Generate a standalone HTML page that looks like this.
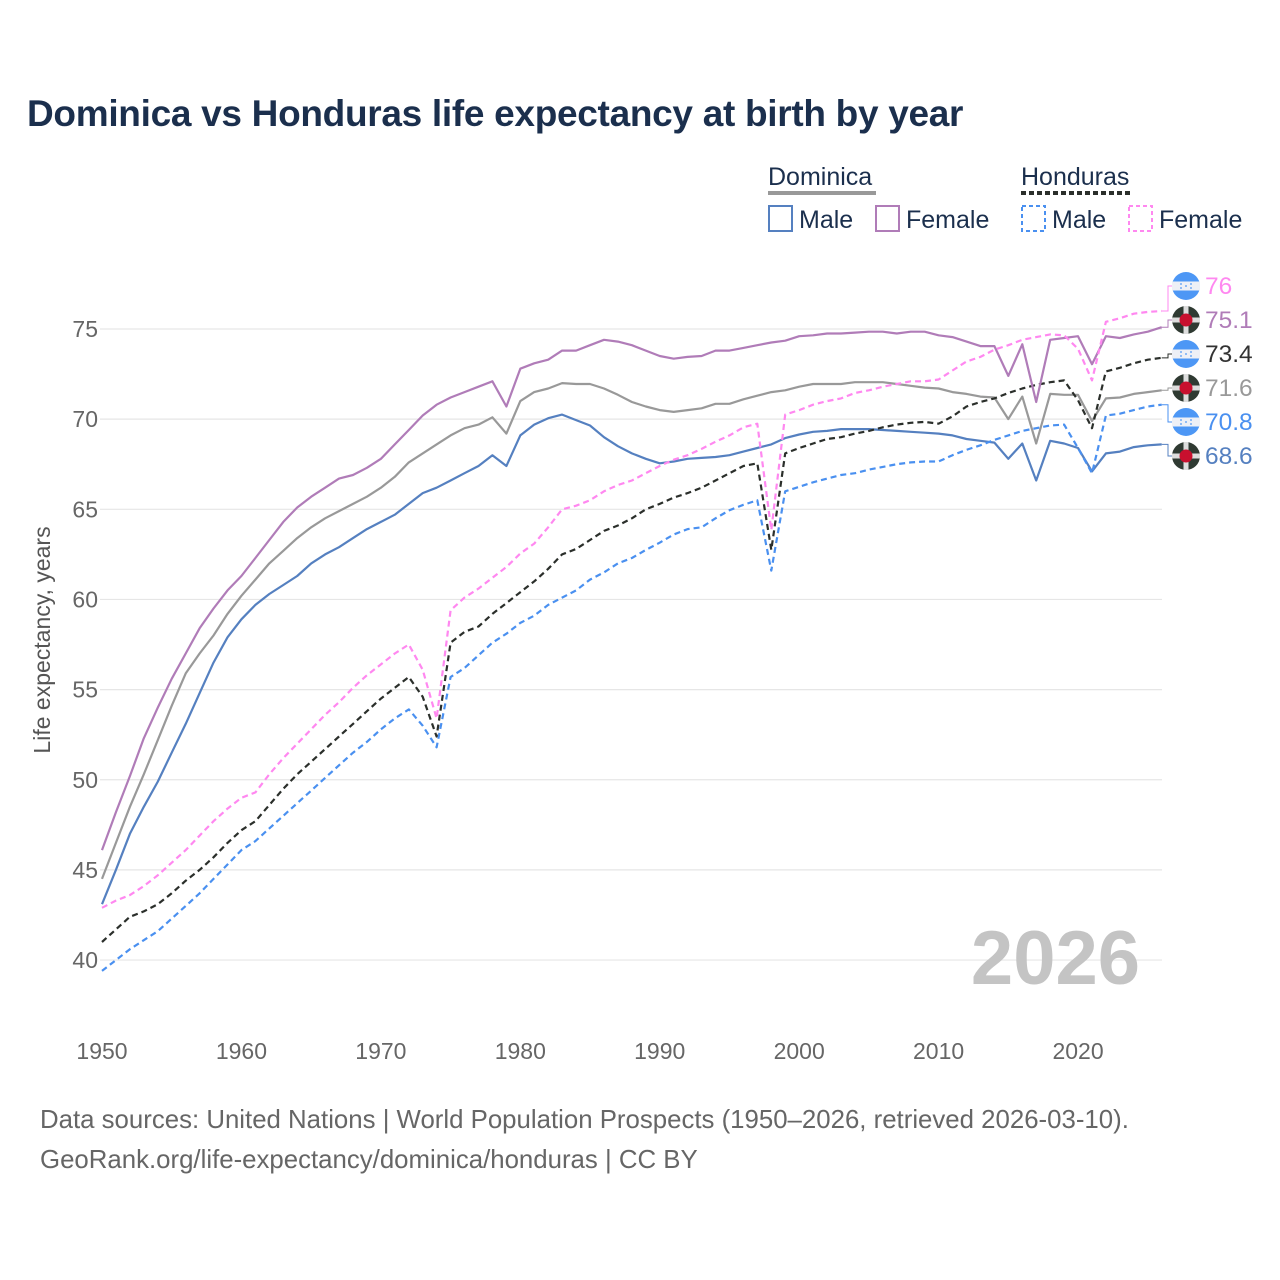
<!DOCTYPE html>
<html><head><meta charset="utf-8"><style>
html,body{margin:0;padding:0;background:#fff;}
body{width:1280px;height:1280px;position:relative;overflow:hidden;font-family:"Liberation Sans",sans-serif;}
.t{position:absolute;white-space:nowrap;}
</style></head><body>
<div class="t" style="left:27px;top:93px;font-size:37px;font-weight:bold;color:#1b2f4d;letter-spacing:-0.3px;">Dominica vs Honduras life expectancy at birth by year</div>
<div class="t" style="left:40px;top:1106px;font-size:25.8px;color:#666;">Data sources: United Nations | World Population Prospects (1950–2026, retrieved 2026-03-10).</div>
<div class="t" style="left:40px;top:1146px;font-size:25.8px;color:#666;">GeoRank.org/life-expectancy/dominica/honduras | CC BY</div>
<svg id="chart" width="1280" height="1280" style="position:absolute;left:0;top:0;" xmlns="http://www.w3.org/2000/svg" font-family="Liberation Sans, sans-serif"></svg>
<script>
const years = []; for (let y = 1950; y <= 2026; y++) years.push(y);
const yTicks = [40,45,50,55,60,65,70,75];
const xTicks = [1950,1960,1970,1980,1990,2000,2010,2020];
const domMale = [43.1,45.0,47.0,48.5,49.9,51.5,53.1,54.8,56.5,57.9,58.9,59.7,60.3,60.8,61.3,62.0,62.5,62.9,63.4,63.9,64.3,64.7,65.3,65.9,66.2,66.6,67.0,67.4,68.0,67.4,
69.1,69.7,70.05,70.25,69.95,69.65,69.0,68.5,68.1,67.8,67.55,67.65,67.8,67.85,67.9,68.0,68.2,68.4,68.6,68.95,69.15,69.3,69.35,69.45,69.45,69.45,69.4,69.35,69.3,69.25,
69.2,69.1,68.9,68.8,68.7,67.8,68.65,66.6,68.8,68.65,68.4,67.1,68.1,68.2,68.45,68.55,68.6];
const domFemale = [46.1,48.2,50.2,52.3,54.0,55.6,57.0,58.4,59.5,60.5,61.3,62.3,63.3,64.3,65.1,65.7,66.2,66.7,66.9,67.3,67.8,68.6,69.4,70.2,70.8,71.2,71.5,71.8,72.1,70.7,
72.8,73.1,73.3,73.8,73.8,74.1,74.4,74.3,74.1,73.8,73.5,73.35,73.45,73.5,73.8,73.8,73.95,74.1,74.25,74.35,74.6,74.65,74.75,74.75,74.8,74.85,74.85,74.75,74.85,74.85,
74.65,74.55,74.3,74.05,74.05,72.4,74.15,70.95,74.4,74.5,74.6,73.05,74.6,74.5,74.7,74.85,75.1];
const domTotal = [44.5,46.5,48.5,50.3,52.2,54.1,55.9,57.0,58.0,59.2,60.2,61.1,62.0,62.7,63.4,64.0,64.5,64.9,65.3,65.7,66.2,66.8,67.6,68.1,68.6,69.1,69.5,69.7,70.1,69.2,
71.0,71.5,71.7,72.0,71.95,71.95,71.7,71.35,70.95,70.7,70.5,70.4,70.5,70.6,70.85,70.85,71.1,71.3,71.5,71.6,71.8,71.95,71.95,71.95,72.05,72.05,72.05,71.95,71.85,71.75,
71.7,71.5,71.4,71.25,71.2,70.0,71.25,68.65,71.4,71.35,71.35,69.9,71.15,71.2,71.4,71.5,71.6];
const honMale = [39.4,40.0,40.6,41.1,41.6,42.3,43.0,43.7,44.5,45.3,46.1,46.6,47.3,48.0,48.7,49.4,50.1,50.8,51.5,52.1,52.8,53.4,53.9,53.0,51.8,55.7,56.2,56.9,57.6,58.1,
58.7,59.1,59.7,60.1,60.5,61.1,61.5,62.0,62.3,62.75,63.15,63.6,63.9,64.0,64.5,64.95,65.25,65.5,61.6,66.0,66.25,66.5,66.7,66.9,67.0,67.2,67.35,67.5,67.6,67.65,
67.65,68.0,68.3,68.55,68.85,69.1,69.35,69.5,69.65,69.7,68.4,67.0,70.2,70.3,70.5,70.7,70.8];
const honFemale = [42.9,43.3,43.6,44.1,44.7,45.4,46.1,46.9,47.7,48.4,49.0,49.3,50.3,51.2,52.0,52.8,53.6,54.3,55.1,55.8,56.4,57.0,57.5,56.1,53.4,59.4,60.1,60.6,61.2,61.8,
62.55,63.1,64.0,65.0,65.2,65.5,66.0,66.35,66.6,67.0,67.4,67.75,68.0,68.35,68.75,69.1,69.55,69.75,63.85,70.25,70.5,70.8,71.0,71.15,71.45,71.6,71.8,71.95,72.1,72.1,
72.2,72.7,73.2,73.45,73.85,74.1,74.4,74.55,74.7,74.65,73.9,72.15,75.4,75.6,75.85,75.95,76.0];
const honTotal = [41.0,41.7,42.4,42.7,43.1,43.7,44.4,45.0,45.7,46.5,47.2,47.7,48.6,49.5,50.3,51.0,51.7,52.4,53.1,53.8,54.5,55.1,55.7,54.6,52.4,57.6,58.2,58.5,59.2,59.8,
60.4,61.0,61.7,62.5,62.8,63.3,63.8,64.1,64.5,65.0,65.3,65.65,65.9,66.2,66.6,67.0,67.4,67.55,62.75,68.1,68.4,68.65,68.9,69.0,69.2,69.35,69.55,69.7,69.8,69.85,
69.75,70.15,70.7,70.95,71.15,71.45,71.7,71.9,72.05,72.15,71.05,69.5,72.65,72.85,73.1,73.3,73.4];

const svg = document.getElementById('chart');
const NS = 'http://www.w3.org/2000/svg';
const X0 = 102, X1 = 1161.7, Y75 = 329, PERU = 18.03;
const xs = y => X0 + (y - 1950) * (X1 - X0) / 76;
const ys = v => Y75 + (75 - v) * PERU;
function mk(tag, attrs, parent) {
  const e = document.createElementNS(NS, tag);
  for (const k in attrs) e.setAttribute(k, attrs[k]);
  (parent || svg).appendChild(e);
  return e;
}
yTicks.forEach(v => {
  const g = mk('line', {x1: 100, x2: 1162, y1: ys(v), y2: ys(v), stroke: '#e6e6e6', 'stroke-width': 1.2});
  
  
  const t = mk('text', {x: 98, y: ys(v) + 8, 'text-anchor': 'end', 'font-size': 23, fill: '#666'});
  t.textContent = v;
  
  
});
xTicks.forEach(yr => {
  const t = mk('text', {x: xs(yr), y: 1059, 'text-anchor': 'middle', 'font-size': 23, fill: '#666'});
  t.textContent = yr;
  
  
});
const yt = mk('text', {x: 0, y: 0, transform: 'translate(50,640) rotate(-90)', 'text-anchor': 'middle', 'font-size': 23, fill: '#555'});
yt.textContent = 'Life expectancy, years';


const big = mk('text', {x: 1140, y: 984, 'text-anchor': 'end', 'font-size': 76, 'font-weight': 'bold', fill: '#c4c4c4'});
big.textContent = '2026';



const series = [
  {name:'honduras-female', data: honFemale, color:'#ff88f0', dash:'6,4', flag:'hn', tcolor:'#ff88f0'},
  {name:'dominica-female', data: domFemale, color:'#b07cb8', dash:null, flag:'dm', tcolor:'#b07cb8'},
  {name:'honduras-total', data: honTotal, color:'#2b2f2b', dash:'6,4', flag:'hn', tcolor:'#333'},
  {name:'dominica-total', data: domTotal, color:'#999999', dash:null, flag:'dm', tcolor:'#999'},
  {name:'honduras-male', data: honMale, color:'#4a90f0', dash:'6,4', flag:'hn', tcolor:'#4a90f0'},
  {name:'dominica-male', data: domMale, color:'#5580c0', dash:null, flag:'dm', tcolor:'#5580c0'}
];
[...series].reverse().forEach(s => {
  const d = s.data.map((v, i) => (i ? 'L' : 'M') + xs(years[i]).toFixed(1) + ',' + ys(v).toFixed(1)).join('');
  const p = mk('path', {d, fill: 'none', stroke: s.color, 'stroke-width': 2.2, 'stroke-linejoin': 'round'});
  if (s.dash) p.setAttribute('stroke-dasharray', s.dash);
  
  
});
const sorted = [...series].sort((a, b) => b.data[b.data.length - 1] - a.data[a.data.length - 1]);
sorted.forEach((s, i) => {
  const last = s.data[s.data.length - 1];
  const ly = 286 + 34 * i;
  const ey = ys(last);
  const c = mk('path', {d: `M${X1},${ey} L1168,${ey} L1168,${ly} L1174,${ly}`, fill: 'none', stroke: s.color, 'stroke-width': 1});
  
  
  const g = mk('g', {transform: `translate(1186,${ly})`});
  
  
  if (s.flag === 'hn') {
    mk('circle', {r: 14, fill: '#4d97f5'}, g);
    mk('rect', {x: -14, y: -4.5, width: 28, height: 9, fill: '#eef0f6'}, g);
    [[-5,-2],[5,-2],[0,0],[-5,2],[5,2]].forEach(p => mk('circle', {cx: p[0], cy: p[1], r: 0.9, fill: '#4d97f5'}, g));
  } else {
    mk('circle', {r: 14, fill: '#2f3a32'}, g);
    mk('rect', {x: -14, y: -2.5, width: 28, height: 5, fill: '#ddd'}, g);
    mk('rect', {x: -2.5, y: -14, width: 5, height: 28, fill: '#ddd'}, g);
    mk('circle', {r: 6.5, fill: '#c8102e'}, g);
  }
  const t = mk('text', {x: 1205, y: ly + 8, 'font-size': 24.5, fill: s.tcolor});
  t.textContent = String(Number(last.toFixed(1)));
  
  
});
function lt(x, y, str, name) {
  const t = mk('text', {x, y, 'font-size': 25, fill: '#1b2f4d'});
  t.textContent = str;
  
  
}
lt(768, 185, 'Dominica', 'legend-dominica');
mk('line', {x1: 768, x2: 876, y1: 193, y2: 193, stroke: '#999', 'stroke-width': 4});
lt(1021, 185, 'Honduras', 'legend-honduras');
mk('line', {x1: 1021, x2: 1133, y1: 193, y2: 193, stroke: '#2b2f2b', 'stroke-width': 4, 'stroke-dasharray': '5,3'});
const boxes = [
  {x: 768, c: '#5580c0', d: null, l: 'Male', n: 'legend-dominica-male'},
  {x: 875, c: '#b07cb8', d: null, l: 'Female', n: 'legend-dominica-female'},
  {x: 1021, c: '#4a90f0', d: '4,3', l: 'Male', n: 'legend-honduras-male'},
  {x: 1128, c: '#ff88f0', d: '4,3', l: 'Female', n: 'legend-honduras-female'}
];
boxes.forEach(b => {
  const r = mk('rect', {x: b.x + 1, y: 206, width: 23, height: 25, fill: 'none', stroke: b.c, 'stroke-width': 2});
  if (b.d) r.setAttribute('stroke-dasharray', b.d);
  lt(b.x + 31, 228, b.l, b.n);
});
</script>
</body></html>
